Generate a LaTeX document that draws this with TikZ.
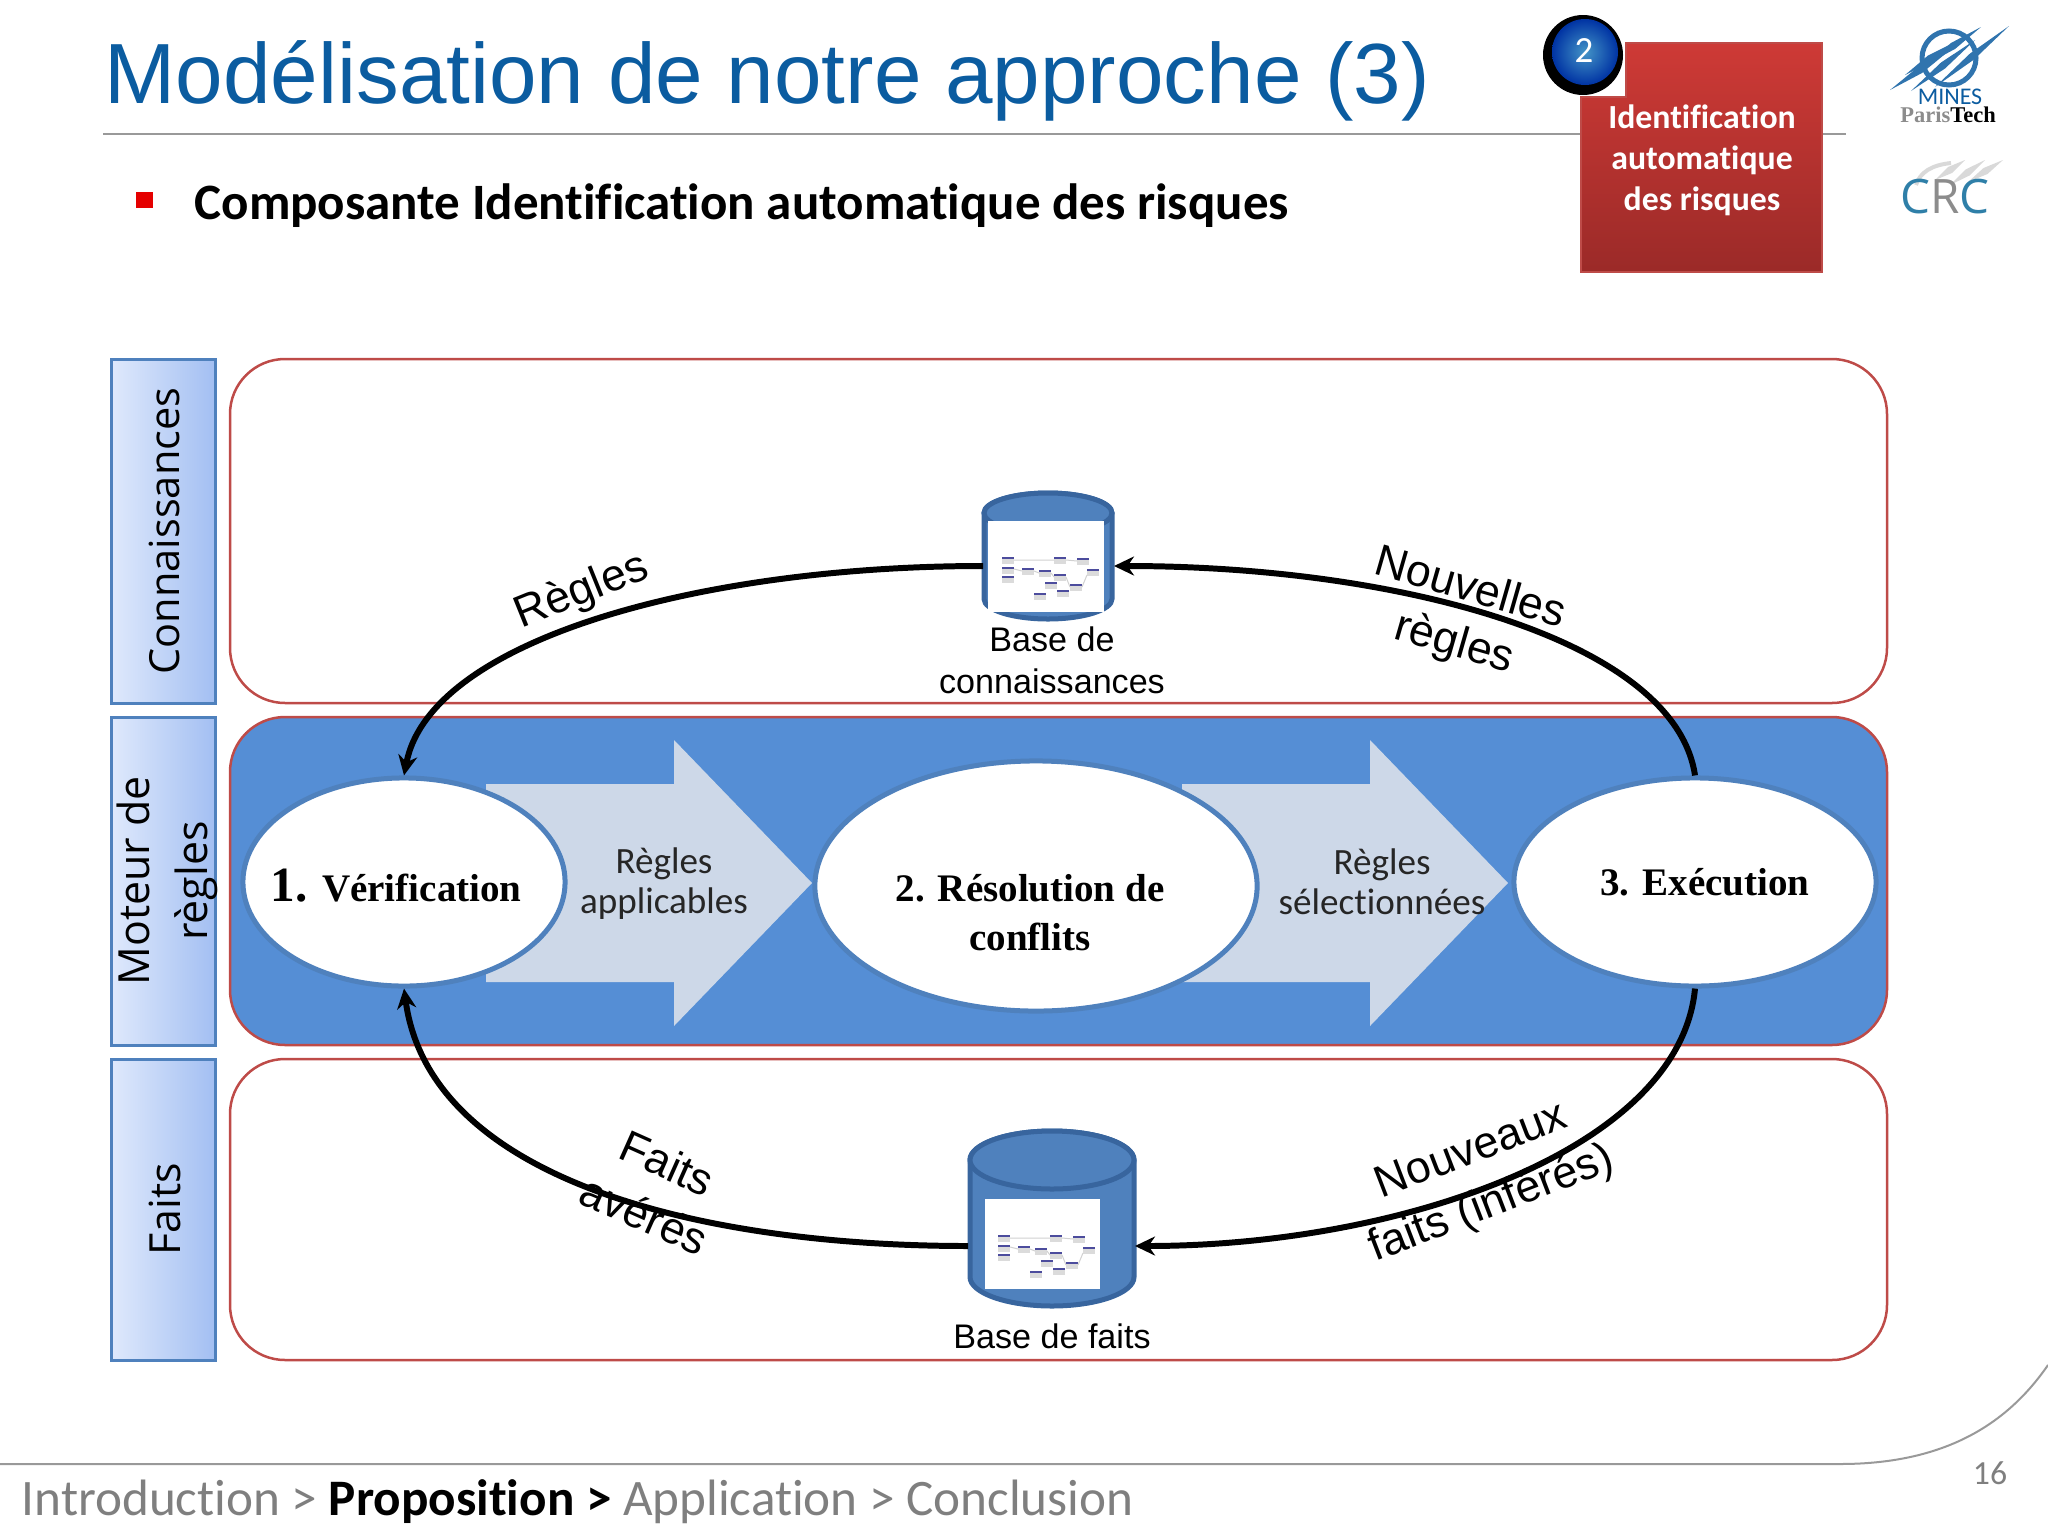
\documentclass[tikz,border=0pt]{standalone}
\usepackage{fontspec}
\setmainfont{Liberation Sans}
\newfontfamily\carlito[Ligatures=NoCommon]{Carlito}
\newfontfamily\opensans{Open Sans}
\newfontfamily\timesb{Liberation Serif}
\usetikzlibrary{shapes.geometric,arrows.meta}
\definecolor{titleblue}{HTML}{0B5CA0}
\definecolor{panelblue}{HTML}{558ED5}
\definecolor{rimblue}{HTML}{4F81BD}
\definecolor{darkrim}{HTML}{38659E}
\definecolor{arrowgrey}{HTML}{CDD8E8}
\definecolor{panelred}{HTML}{BE4B48}
\definecolor{footgrey}{HTML}{7F7F7F}
\definecolor{sideleft}{HTML}{DFE9FC}
\definecolor{sideright}{HTML}{A3BFF2}
\definecolor{redtop}{HTML}{CE3A36}
\definecolor{redbottom}{HTML}{9B2A28}
\definecolor{crcblue}{HTML}{2F7FA8}
\tikzset{
	sidebox/.style={draw=rimblue, line width=0.3mm, left color=sideleft, right color=sideright},
	panelbox/.style={draw=panelred, line width=0.25mm, rounded corners=0.55cm},
	stepnode/.style={ellipse, draw=rimblue, line width=0.5mm, fill=white, inner sep=0pt},
	steptext/.style={align=center, inner sep=0pt, font=\timesb\bfseries\fontsize{11.1}{14}\selectfont},
	flowline/.style={line width=1.7pt, -{Stealth[length=2mm, width=1.9mm]}},
	arrowtext/.style={align=center, font=\carlito\fontsize{10.55}{11.4}\selectfont, text=black!85},
	curvetext/.style={align=center, font=\fontsize{12.7}{16.2}\selectfont},
	basetext/.style={align=center, font=\fontsize{9.7}{12}\selectfont},
	sidetext/.style={rotate=90, align=center, font=\opensans\fontsize{12.2}{16.5}\selectfont},
	dbbody/.style={draw=darkrim, line width=0.5mm, fill=rimblue},
}
\def\blockarrow(#1){\fill[arrowgrey] (#1,784) -- (#1+188,784) -- (#1+188,740) -- (#1+326,883) -- (#1+188,1026) -- (#1+188,982) -- (#1,982) -- cycle;}
\def\dbshape(#1,#2,#3,#4,#5){
	\draw[dbbody] (#1-#2,#3) -- (#1-#2,#4) .. controls (#1-#2,#4+0.55*#5) and (#1-0.55*#2,#4+#5) .. (#1,#4+#5) .. controls (#1+0.55*#2,#4+#5) and (#1+#2,#4+0.55*#5) .. (#1+#2,#4) -- (#1+#2,#3) .. controls (#1+#2,#3-0.55*#5) and (#1+0.55*#2,#3-#5) .. (#1,#3-#5) .. controls (#1-0.55*#2,#3-#5) and (#1-#2,#3-0.55*#5) .. cycle;
	\draw[dbbody] (#1,#3) ellipse (#2 and #5);
}
\def\thumbnail(#1,#2){
	\foreach \bx/\by in {0/0,0/10,0/19,20/11,37/13,52/0,75/1,85/12,52/17,43/25,68/27,32/36,55/33}{
		\fill[black!14] (#1+\bx,#2+\by) rectangle (#1+\bx+12,#2+\by+7);
		\fill[blue!45!black!70] (#1+\bx,#2+\by) rectangle (#1+\bx+12,#2+\by+2);
	}
	\draw[black!18, line width=0.1mm] (#1+12,#2+3) -- (#1+52,#2+3) (#1+12,#2+12) -- (#1+20,#2+14) (#1+32,#2+14) -- (#1+37,#2+16) (#1+49,#2+16) -- (#1+52,#2+20) (#1+64,#2+20) -- (#1+68,#2+30) (#1+80,#2+30) -- (#1+85,#2+18) (#1+64,#2+3) -- (#1+75,#2+4);
}
\def\logostroke(#1,#2,#3,#4){\fill (#1,#2) -- (#1/2+#3/2+2,#2/2+#4/2+3) -- (#3,#4) -- (#1/2+#3/2-2,#2/2+#4/2-3) -- cycle;}
\begin{document}
\begin{tikzpicture}[x=0.01cm, y=-0.01cm]
	%%%%% START %%%%%
	\useasboundingbox (0,0) rectangle (2048,1536);
	
	% header
	\node[anchor=west, text=titleblue, font=\fontsize{24.3}{28}\selectfont, inner sep=0pt] (title) at (104,81) {Modélisation de notre approche (3)};
	\draw[line width=0.2mm, color=black!40] (103,134) -- (1846,134);
	\fill[red!90!black] (136,192) rectangle (153,208);
	\node[anchor=west, font=\carlito\bfseries\fontsize{14.5}{16}\selectfont, inner sep=0pt] (subtitle) at (194,206) {Composante Identification automatique des risques};
	
	% red box with its number
	\shade[top color=redtop, bottom color=redbottom, draw=panelred, line width=0.2mm] (1626,43) -- (1822,43) -- (1822,272) -- (1581,272) -- (1581,97) -- (1626,97) -- cycle;
	\node[text=white, align=center, font=\carlito\bfseries\fontsize{9.6}{11.7}\selectfont, inner sep=0pt] (redtext) at (1702,160) {Identification\\automatique\\des risques};
	\fill[black] (1583,55) circle (40);
	\shade[inner color=rimblue!85!cyan, outer color=blue!55!black!80!cyan] (1585,52) circle (33);
	\node[text=white, font=\carlito\fontsize{10.5}{12}\selectfont] (number) at (1584,51) {2};
	
	% logos
	\draw[line width=0.5mm, color=titleblue!85] (1949,58) circle (27);
	\begin{scope}[color=titleblue!85]
		\foreach \ax/\ay/\bx/\by in {1890/90/1950/50, 1911/91/1975/40, 1935/87/2009/26, 1925/65/1981/27, 1905/75/1955/42}{
			\logostroke(\ax,\ay,\bx,\by)
		}
	\end{scope}
	\node[text=titleblue, font=\carlito\fontsize{6.8}{8}\selectfont, inner sep=0pt] (mines) at (1950,97) {MINES};
	\node[font=\timesb\bfseries\fontsize{6.4}{7}\selectfont, inner sep=0pt] (paristech) at (1948,115) {\textcolor{black!45}{Paris}Tech};
	\begin{scope}[color=black!15]
		\foreach \ax/\ay/\bx/\by in {1950/185/1985/160, 1968/182/2003/160, 1935/180/1965/160}{
			\logostroke(\ax,\ay,\bx,\by)
		}
	\end{scope}
	\draw[line width=0.4mm, color=black!15] (1916,185) .. controls (1920,172) and (1932,165) .. (1951,163);
	\node[text=crcblue, font=\opensans\fontsize{13.5}{15}\selectfont, inner sep=0pt] (crc) at (1945,197) {C\textcolor{black!45}{R}C};
	
	% side labels
	\draw[sidebox] (111,359) rectangle (215,703);
	\draw[sidebox] (111,717) rectangle (215,1045);
	\draw[sidebox] (111,1059) rectangle (215,1360);
	\node[sidetext, font=\opensans\fontsize{11.8}{16.5}\selectfont] (connaissances) at (164,531) {Connaissances};
	\node[sidetext] (moteur) at (167,881) {Moteur de\\règles};
	\node[sidetext] (faits) at (165,1209) {Faits};
	
	% panels
	\draw[panelbox] (230,359) rectangle (1887,703);
	\draw[panelbox, fill=panelblue] (230,717) rectangle (1887,1045);
	\draw[panelbox] (230,1059) rectangle (1887,1360);
	
	% block arrows, then the three steps
	\blockarrow(486)
	\blockarrow(1182)
	\node[arrowtext] (applicables) at (664,884) {Règles\\applicables};
	\node[arrowtext] (selectionnees) at (1382,882) {Règles\\sélectionnées};
	\node[stepnode, minimum width=3.22cm, minimum height=2.08cm] (verif) at (404,882) {};
	\node[stepnode, minimum width=4.42cm, minimum height=2.5cm] (resol) at (1036,886) {};
	\node[stepnode, minimum width=3.62cm, minimum height=2.08cm] (exec) at (1695,882) {};
	\node[steptext] (veriftext) at (396,886) {\fontsize{14}{14}\selectfont 1.\hspace{0.3em}\fontsize{11.1}{14}\selectfont Vérification};
	\node[steptext] (resoltext) at (1030,913) {2. Résolution de\\conflits};
	\node[steptext] (exectext) at (1705,882) {3. Exécution};
	
	% the two bases
	\dbshape(1048,64,513,599,20)
	\fill[white] (988,521) rectangle (1104,612);
	\thumbnail(1002,557)
	\coordinate (basekwest) at (983,566);
	\coordinate (basekeast) at (1114,566);
	\dbshape(1052,82,1160,1277,29)
	\fill[white] (985,1199) rectangle (1100,1289);
	\thumbnail(998,1235)
	\coordinate (basefwest) at (968,1246);
	\coordinate (basefeast) at (1135,1246);
	\node[basetext] (basektext) at (1052,660) {Base de\\connaissances};
	\node[basetext] (baseftext) at (1052,1336) {Base de faits};
	
	% connectors
	\draw[flowline] (basekwest) .. controls (700,566) and (430,640) .. (verif.north);
	\draw[flowline] (exec.north) .. controls (1675,640) and (1400,566) .. (basekeast);
	\draw[flowline] (basefwest) .. controls (700,1246) and (430,1180) .. (verif.south);
	\draw[flowline] (exec.south) .. controls (1680,1150) and (1400,1246) .. (basefeast);
	
	\node[curvetext, rotate=22] (regles) at (582,592) {Règles};
	\node[curvetext, rotate=-16] (nouvelles) at (1462,617) {Nouvelles\\règles};
	\node[curvetext, rotate=-24] (averes) at (656,1189) {Faits\\avérés};
	\node[curvetext, rotate=21] (nouveaux) at (1482,1179) {Nouveaux\\faits (inférés)};
	
	% footer
	\draw[line width=0.2mm, color=black!40] (0,1464) -- (1840,1464) .. controls (1950,1464) and (2010,1420) .. (2048,1365);
	\node[anchor=west, text=footgrey, font=\carlito\fontsize{14.55}{16}\selectfont, inner sep=0pt] (footer) at (21,1502) {Introduction > \textcolor{black}{\bfseries Proposition >} Application > Conclusion};
	\node[text=footgrey, font=\carlito\fontsize{9.6}{11}\selectfont, inner sep=0pt] (pagenum) at (1990,1473) {16};
	%%%%% END %%%%%
\end{tikzpicture}
\end{document}
